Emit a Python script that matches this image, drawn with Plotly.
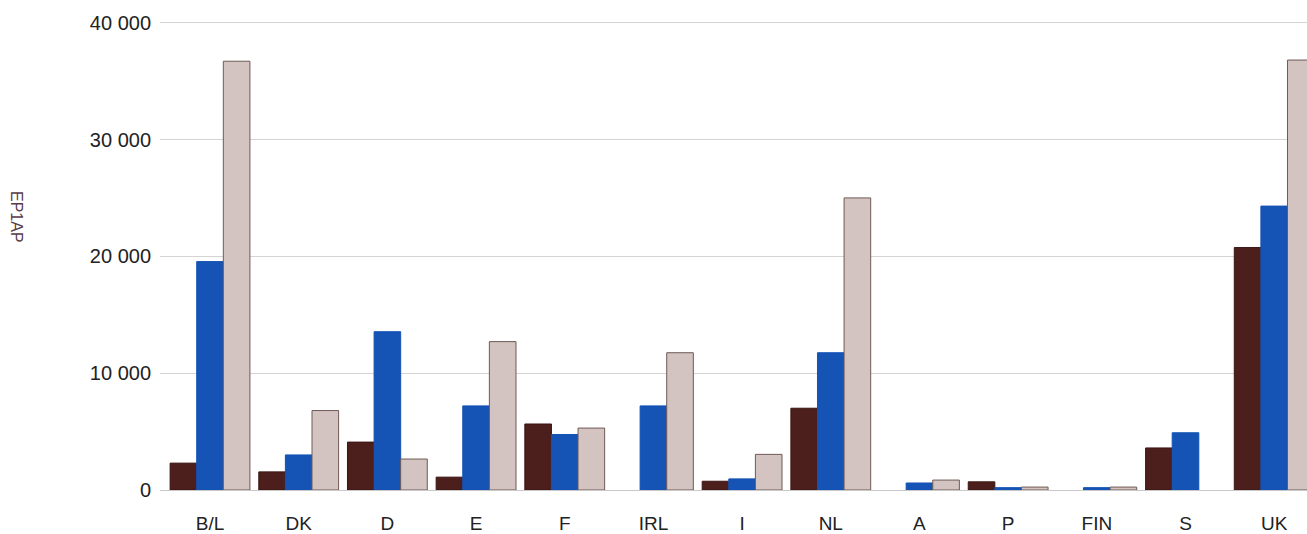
import plotly.graph_objects as go

categories = ["B/L", "DK", "D", "E", "F", "IRL", "I", "NL", "A", "P", "FIN", "S", "UK"]
series_1 = [2300, 1550, 4100, 1100, 5650, None, 750, 7000, None, 700, None, 3600, 20750]
series_2 = [19550, 3000, 13550, 7200, 4750, 7200, 950, 11750, 600, 200, 200, 4900, 24300]
series_3 = [36700, 6800, 2650, 12700, 5300, 11750, 3050, 25000, 850, 250, 250, None, 36800]
y_ticks = [0, 10000, 20000, 30000, 40000]
y_tick_labels = ["0", "10 000", "20 000", "30 000", "40 000"]
y_title = "EP1AP"

colors = ["#4d1f1c", "#1553b5", "#d4c4c1"]
edges = ["#3a1512", "#1553b5", "#6e5a55"]

fig = go.Figure()
for vals, col, edge in zip([series_1, series_2, series_3], colors, edges):
    fig.add_trace(go.Bar(
        x=categories, y=vals,
        marker=dict(color=col, line=dict(color=edge, width=1)),
        showlegend=False,
    ))

fig.update_layout(
    width=1307, height=534,
    margin=dict(l=160, r=0, t=18, b=44, autoexpand=False),
    paper_bgcolor="white", plot_bgcolor="white",
    barmode="group", bargap=0.1, bargroupgap=0,
    font=dict(family="Liberation Sans, Arial, sans-serif", size=20, color="#222222"),
    xaxis=dict(
        range=[-0.564, 12.37], showgrid=False, showline=False, ticks="",
        ticklabelstandoff=20, tickfont=dict(size=19, color="#222222"),
        automargin=False,
    ),
    yaxis=dict(
        range=[0, 40400], tickvals=y_ticks, ticktext=y_tick_labels,
        showgrid=True, gridcolor="#d4d4d4", gridwidth=1,
        zeroline=True, zerolinecolor="#c8c8c8", zerolinewidth=1,
        showline=False, ticks="", ticklabelstandoff=8,
        tickfont=dict(size=20, color="#222222"),
        automargin=False,
    ),
    annotations=[dict(
        text=y_title, xref="paper", yref="paper",
        x=(17 - 160) / 1147, y=(534 - 44 - 217) / 472,
        showarrow=False, textangle=90,
        font=dict(size=16, color="#5a3a4a"),
        xanchor="center", yanchor="middle",
    )],
)

fig.write_html(
    "out.html",
    config={"displayModeBar": False},
    post_script="document.body.style.margin='0';document.body.style.overflow='hidden';",
)
